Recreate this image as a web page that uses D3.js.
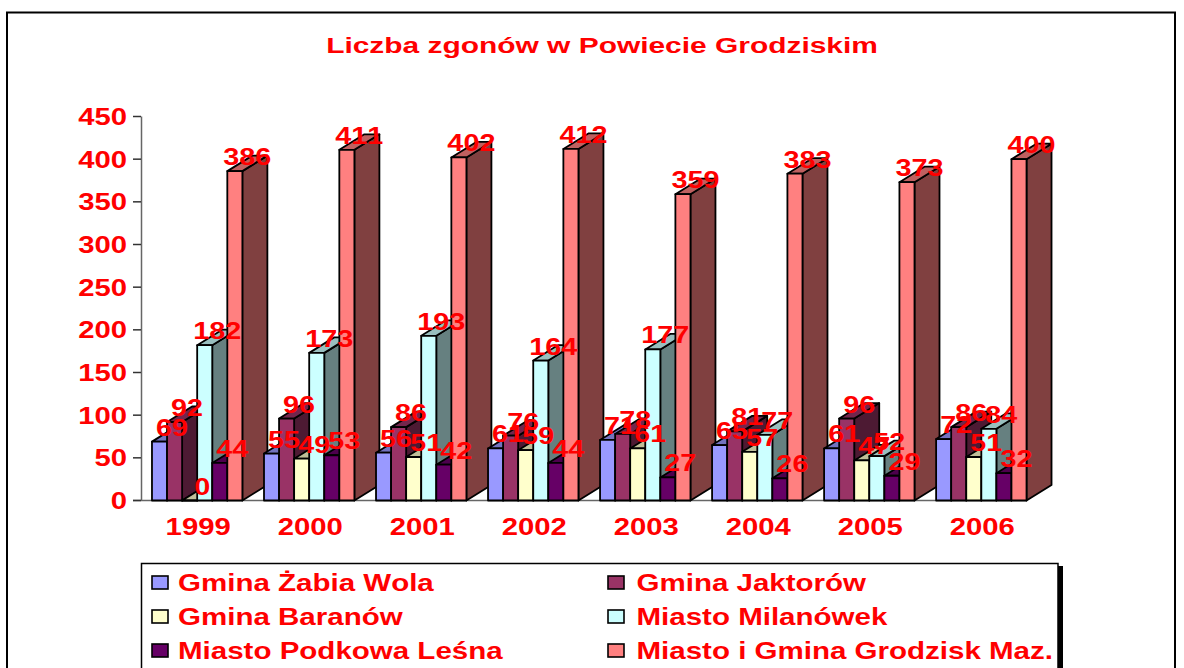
<!DOCTYPE html>
<html><head><meta charset="utf-8">
<script src="https://cdn.jsdelivr.net/npm/d3@7"></script>
<style>html,body{margin:0;padding:0;background:#fff;overflow:hidden}text{font-family:"Liberation Sans",Arial,sans-serif;font-weight:bold;fill:#ff0000;font-kerning:none}</style>
</head><body><svg id="c" width="1184" height="668"></svg>
<script>
const years=["1999","2000","2001","2002","2003","2004","2005","2006"];
const seriesNames=["Gmina Żabia Wola","Gmina Jaktorów","Gmina Baranów","Miasto Milanówek","Miasto Podkowa Leśna","Miasto i Gmina Grodzisk Maz."];
const zabiaWola=[69,55,56,61,71,65,61,72];
const jaktorow=[92,96,86,76,78,81,96,86];
const baranow=[0,49,51,59,61,57,47,51];
const milanowek=[182,173,193,164,177,77,52,84];
const podkowa=[44,53,42,44,27,26,29,32];
const grodzisk=[386,411,402,412,359,383,373,400];
const yTicks=[0,50,100,150,200,250,300,350,400,450];
const values=[zabiaWola,jaktorow,baranow,milanowek,podkowa,grodzisk];
const front=["#9999ff","#993366","#ffffcc","#ccffff","#660066","#ff8080"];
const title="Liczba zgonów w Powiecie Grodziskim";

const svg=d3.select("#c");
const y=d3.scaleLinear().domain([0,450]).range([500.5,116.5]);
const x0=d3.scaleBand().domain(years).range([141,1037.5]).paddingInner(0.193).paddingOuter(0.098);
const x1=d3.scaleBand().domain(d3.range(6)).range([0,x0.bandwidth()]);
const dx=25,dy=15.5;
function st(t,x,yy,size,sx,anchor){return svg.append("text").attr("transform",`translate(${x},${yy}) scale(${sx},1)`).attr("text-anchor",anchor).attr("font-size",size).text(t);}

// frame
svg.append("path").attr("d","M7,668V12.5H1175V668").attr("fill","none").attr("stroke","#000").attr("stroke-width",2);
st(title,602,53,22,1.36,"middle");

// axes
svg.append("line").attr("x1",141.5).attr("x2",141.5).attr("y1",y(450)).attr("y2",y(0)).attr("stroke","#666").attr("stroke-width",1.5);
svg.append("line").attr("x1",133).attr("x2",1027).attr("y1",y(0)).attr("y2",y(0)).attr("stroke","#666").attr("stroke-width",1.5);
yTicks.forEach(t=>{
  svg.append("line").attr("x1",133).attr("x2",141).attr("y1",y(t)).attr("y2",y(t)).attr("stroke","#333").attr("stroke-width",1.5);
  st(t,127,y(t)+8.5,24,1.22,"end");
});
years.forEach(v=>st(v,x0(v)+x0.bandwidth()/2+1,535,24,1.22,"middle"));

// bars
years.forEach((yr,i)=>{
  const g=svg.append("g");
  values.forEach((s,j)=>{
    const xa=x0(yr)+x1(j),w=x1.bandwidth(),xb=xa+w,t=y(s[i]),b=y(0);
    const c=d3.rgb(front[j]);
    const add=(d,f)=>g.append("path").attr("d",d).attr("fill",f).attr("stroke","#000").attr("stroke-width",1.8).attr("stroke-linejoin","round");
    add(`M${xb},${b}L${xb+dx},${b-dy}V${t-dy}L${xb},${t}Z`,d3.rgb(c.r*.5,c.g*.5,c.b*.5).formatHex());
    add(`M${xa},${t}L${xa+dx},${t-dy}H${xb+dx}L${xb},${t}Z`,d3.rgb(c.r*.75,c.g*.75,c.b*.75).formatHex());
    add(`M${xa},${t}H${xb}V${b}H${xa}Z`,front[j]);
  });
});
// labels
years.forEach((yr,i)=>values.forEach((s,j)=>{
  st(s[i],x0(yr)+x1(j)+x1.bandwidth()/2+12.5,y(s[i])-6,24,1.2,"middle");
}));

// legend
svg.append("rect").attr("x",1058).attr("y",566).attr("width",5).attr("height",102).attr("fill","#000");
svg.append("path").attr("d","M141.5,668V563.5H1058V668").attr("fill","#fff").attr("stroke","#000").attr("stroke-width",1.5);
seriesNames.forEach((n,j)=>{
  const lx=j%2?608:152, ly=582.5+Math.floor(j/2)*34;
  svg.append("rect").attr("x",lx).attr("y",ly-6.5).attr("width",16).attr("height",13).attr("fill",front[j]).attr("stroke","#000").attr("stroke-width",1.6);
  st(n,lx+(j%2?28.5:26),ly+8,24,1.23,"start");
});
</script></body></html>
